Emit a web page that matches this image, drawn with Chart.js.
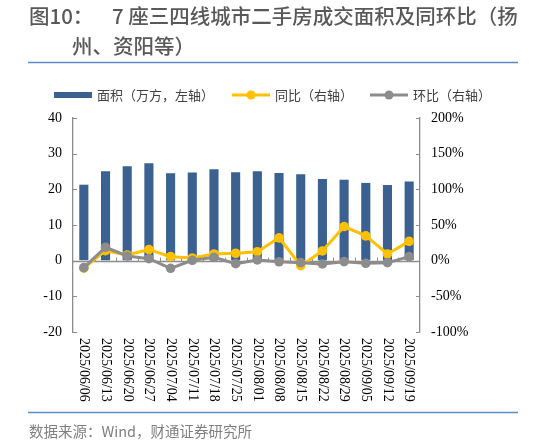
<!DOCTYPE html>
<html><head><meta charset="utf-8">
<script src="https://cdn.jsdelivr.net/npm/chart.js@4.4.0/dist/chart.umd.min.js"></script>
<style>html,body{margin:0;padding:0;background:#fff;}canvas{display:block;}</style>
</head><body>
<canvas id="c" width="533" height="443"></canvas>
<script>
const categories = ["2025/06/06","2025/06/13","2025/06/20","2025/06/27","2025/07/04","2025/07/11","2025/07/18","2025/07/25","2025/08/01","2025/08/08","2025/08/15","2025/08/22","2025/08/29","2025/09/05","2025/09/12","2025/09/19"];
const areaValues = [21.3,25.1,26.5,27.3,24.5,24.7,25.6,24.8,25.1,24.6,24.2,22.9,22.7,21.8,21.2,22.2];
const yoyValues = [-10.5,14,8,15.5,5.6,3.8,9.4,10.4,12.6,32,-7,13.6,47.8,34.7,9.4,27];
const momValues = [-9.8,18.8,6.6,2.8,-10.7,0.5,4.7,-4.2,1,-1.5,-2.8,-4.6,-1.4,-3.7,-2.8,5.6];
const leftTicks = {min:-20, max:40, step:10};
const rightTicks = {min:-100, max:200, step:50};
const seriesNames = ["面积（万方，左轴）","同比（右轴）","环比（右轴）"];
const titleLine1a = "图10：";
const titleLine1b = "7 座三四线城市二手房成交面积及同环比（扬";
const titleLine2 = "州、资阳等）";
const sourceText = "数据来源：Wind，财通证券研究所";

const BLUE='#3a6190', YELLOW='#ffc000', GRAY='#8c8c8c', AXIS='#8c8c8c';
const CJK='"Noto Sans CJK SC","Noto Sans",sans-serif';
const SERIF='"Liberation Serif","DejaVu Serif",serif';

const deco = {
  id:'deco',
  beforeDatasetsDraw(chart){
    const ctx=chart.ctx, x=chart.scales.x, y=chart.scales.y, y1=chart.scales.y1, a=chart.chartArea;
    ctx.save();
    ctx.strokeStyle=AXIS; ctx.lineWidth=1.3;
    const y0=Math.round(y.getPixelForValue(0))+0.5;
    ctx.beginPath(); ctx.moveTo(a.left,y0); ctx.lineTo(a.right,y0); ctx.stroke();
    ctx.lineWidth=1;
    for(let i=1;i<categories.length;i++){
      const px=Math.round((x.getPixelForValue(i-1)+x.getPixelForValue(i))/2)+0.5;
      ctx.beginPath(); ctx.moveTo(px,y0); ctx.lineTo(px,y0-4); ctx.stroke();
    }
    y.ticks.forEach(t=>{const py=Math.round(y.getPixelForValue(t.value))+0.5;ctx.beginPath();ctx.moveTo(a.left,py);ctx.lineTo(a.left+4,py);ctx.stroke();});
    y1.ticks.forEach(t=>{const py=Math.round(y1.getPixelForValue(t.value))+0.5;ctx.beginPath();ctx.moveTo(a.right,py);ctx.lineTo(a.right-4,py);ctx.stroke();});
    ctx.restore();
  },
  afterDraw(chart){
    const ctx=chart.ctx, x=chart.scales.x, a=chart.chartArea;
    ctx.save();
    // title
    ctx.fillStyle='#595959'; ctx.textBaseline='middle'; ctx.textAlign='left';
    ctx.font='500 20.5px '+CJK;
    ctx.fillText(titleLine1a,29,16);
    ctx.fillText(titleLine1b,112,16);
    ctx.fillText(titleLine2,72,46);
    ctx.strokeStyle='#5b8bc9'; ctx.lineWidth=1.5;
    ctx.beginPath(); ctx.moveTo(28,62.5); ctx.lineTo(518,62.5); ctx.stroke();
    ctx.beginPath(); ctx.moveTo(28,412.5); ctx.lineTo(518,412.5); ctx.stroke();
    // footer
    ctx.fillStyle='#7f7f7f'; ctx.font='14.5px '+CJK;
    ctx.fillText(sourceText,29,431);
    // legend
    const ly=95;
    ctx.font='13px '+CJK;
    ctx.fillStyle=BLUE; ctx.fillRect(54,ly-3,38,6);
    ctx.fillStyle='#404040'; ctx.fillText(seriesNames[0],97,ly);
    [[232,YELLOW,seriesNames[1]],[370,GRAY,seriesNames[2]]].forEach(([lx,c,t])=>{
      ctx.strokeStyle=c; ctx.lineWidth=3;
      ctx.beginPath(); ctx.moveTo(lx,ly); ctx.lineTo(lx+38,ly); ctx.stroke();
      ctx.fillStyle=c; ctx.beginPath(); ctx.arc(lx+19,ly,4.5,0,Math.PI*2); ctx.fill();
      ctx.fillStyle='#404040'; ctx.fillText(t,lx+43,ly);
    });
    // x labels (rotated, read top to bottom)
    ctx.fillStyle='#000'; ctx.font='14px '+SERIF;
    categories.forEach((lab,i)=>{
      const px=x.getPixelForValue(i);
      ctx.save(); ctx.translate(px,338); ctx.rotate(Math.PI/2);
      ctx.textAlign='left'; ctx.textBaseline='middle';
      ctx.fillText(lab,0,0); ctx.restore();
    });
    ctx.restore();
  }
};

new Chart(document.getElementById('c'),{
  type:'bar',
  data:{labels:categories,datasets:[
    {type:'line',label:seriesNames[2],data:momValues,yAxisID:'y1',borderColor:GRAY,backgroundColor:GRAY,borderWidth:3,pointRadius:4.8,pointBorderWidth:0,tension:0,order:1},
    {type:'line',label:seriesNames[1],data:yoyValues,yAxisID:'y1',borderColor:YELLOW,backgroundColor:YELLOW,borderWidth:3,pointRadius:4.8,pointBorderWidth:0,tension:0,order:2},
    {type:'bar',label:seriesNames[0],data:areaValues,yAxisID:'y',backgroundColor:BLUE,borderColor:'#c3d2e6',borderWidth:0,barPercentage:0.42,categoryPercentage:1,order:3}
  ]},
  options:{
    responsive:false, animation:false, devicePixelRatio:1,
    layout:{padding:{left:0,right:0,top:118,bottom:111}},
    plugins:{legend:{display:false},tooltip:{enabled:false},title:{display:false}},
    scales:{
      x:{type:'category',display:false,offset:true},
      y:{position:'left',min:leftTicks.min,max:leftTicks.max,
         ticks:{stepSize:leftTicks.step,color:'#000',font:{family:SERIF,size:14},padding:11},
         grid:{drawOnChartArea:false,drawTicks:false},border:{display:true,color:AXIS,width:1.3},
         afterFit:s=>{s.width=73;}},
      y1:{position:'right',min:rightTicks.min,max:rightTicks.max,
         ticks:{stepSize:rightTicks.step,color:'#000',font:{family:SERIF,size:14},padding:11,callback:v=>v+'%'},
         grid:{drawOnChartArea:false,drawTicks:false},border:{display:true,color:AXIS,width:1.3},
         afterFit:s=>{s.width=113;}}
    }
  },
  plugins:[deco]
});
</script>
</body></html>
